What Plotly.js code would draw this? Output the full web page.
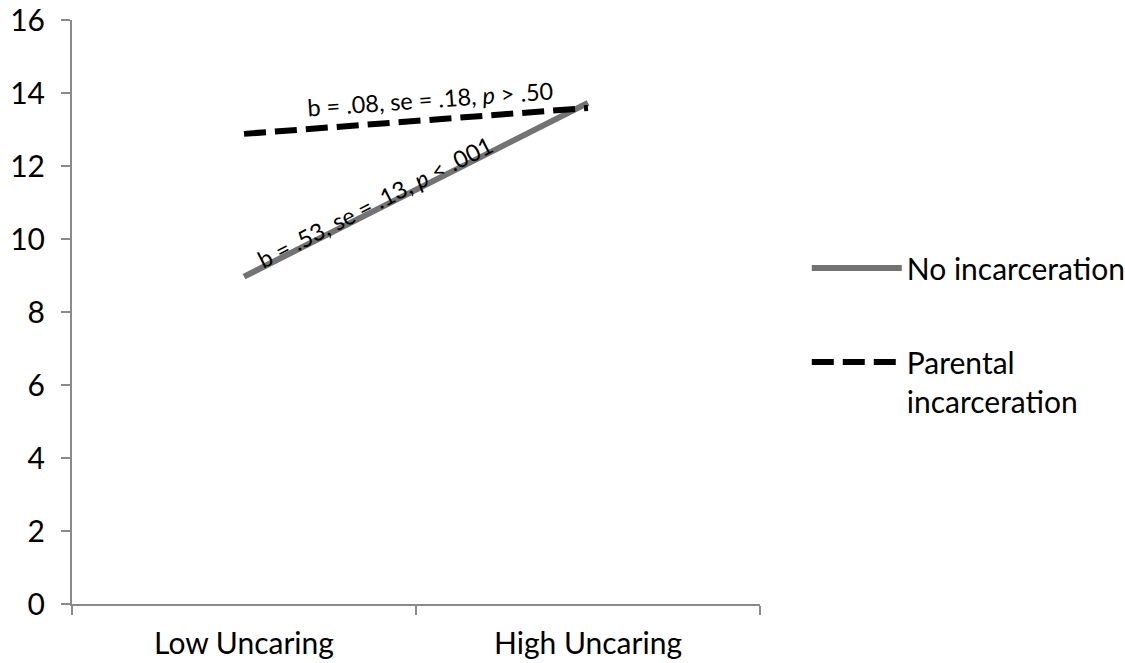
<!DOCTYPE html>
<html>
<head>
<meta charset="utf-8">
<script src="https://cdn.plot.ly/plotly-3.0.1.min.js"></script>
<style>html,body{margin:0;padding:0;background:#fff;}#chart{width:1125px;height:663px;}</style>
</head>
<body>
<div id="chart"></div>
<script>
var categories = ["Low Uncaring", "High Uncaring"];
var noIncarceration = [8.97, 13.73];
var parentalIncarceration = [12.88, 13.59];
var yTicks = [0, 2, 4, 6, 8, 10, 12, 14, 16];
var seriesNames = ["No incarceration", "Parental<br>incarceration"];
var slopeLabels = ["b = .53, se = .13, <i>p</i> < .001", "b = .08, se = .18, <i>p</i> > .50"];

var FONT = "Lato, 'Liberation Sans', sans-serif";

var traces = [
  {
    x: categories, y: noIncarceration, name: seriesNames[0], type: "scatter", mode: "lines",
    line: {color: "#737373", width: 6}, legendgroup: "a", hoverinfo: "skip"
  },
  {
    x: categories, y: parentalIncarceration, name: seriesNames[1], type: "scatter", mode: "lines",
    line: {color: "#000000", width: 6, dash: "22px,9px"}, legendgroup: "b", hoverinfo: "skip"
  }
];

var layout = {
  width: 1125, height: 663,
  margin: {l: 72, r: 365, t: 20, b: 59, autoexpand: false},
  paper_bgcolor: "#fff", plot_bgcolor: "#fff",
  font: {family: FONT, color: "#000", size: 30},
  showlegend: true,
  legend: {
    x: 1.068, xanchor: "left", y: 0.62, yanchor: "top",
    traceorder: "grouped", tracegroupgap: 52, valign: "top", itemwidth: 90,
    font: {family: FONT, size: 30, color: "#000"}, bgcolor: "rgba(0,0,0,0)"
  },
  xaxis: {
    type: "category", range: [-0.5, 1.5], showgrid: false, zeroline: false,
    showline: true, linecolor: "#8a8a8a", linewidth: 2,
    ticks: "outside", tickson: "boundaries", ticklen: 9, tickcolor: "#8a8a8a", tickwidth: 2,
    tickfont: {family: FONT, size: 30, color: "#000"}, ticklabelstandoff: 12
  },
  yaxis: {
    range: [0, 16], tickvals: yTicks, showgrid: false, zeroline: false,
    showline: true, linecolor: "#8a8a8a", linewidth: 2,
    ticks: "outside", ticklen: 9, tickcolor: "#8a8a8a", tickwidth: 2,
    tickfont: {family: FONT, size: 30, color: "#000"}, ticklabelstandoff: 10
  },
  annotations: [
    {x: 0.381, y: 11.02, xref: "x", yref: "y", text: slopeLabels[0], showarrow: false,
     textangle: -27, font: {family: FONT, size: 23.5, color: "#000"}},
    {x: 0.541, y: 13.84, xref: "x", yref: "y", text: slopeLabels[1], showarrow: false,
     textangle: -4, font: {family: FONT, size: 23.5, color: "#000"}}
  ]
};

Plotly.newPlot("chart", traces, layout, {displayModeBar: false, staticPlot: true});
</script>
</body>
</html>
